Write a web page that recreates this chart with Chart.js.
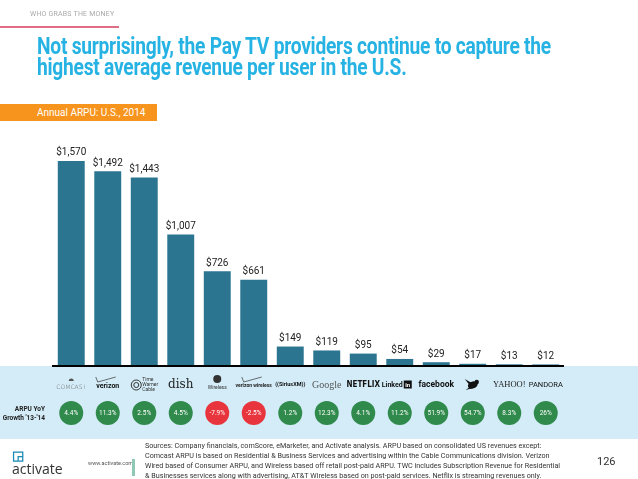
<!DOCTYPE html>
<html>
<head>
<meta charset="utf-8">
<script src="https://cdn.jsdelivr.net/npm/chart.js@4.4.1/dist/chart.umd.min.js"></script>
<style>
  body { margin: 0; width: 638px; height: 479px; background: #fff; position: relative; overflow: hidden; font-family: Roboto, sans-serif; }
  #c { position: absolute; left: 0; top: 0; }
  .kicker { position: absolute; left: 30px; top: 10px; font-size: 7px; color: #a9a9a9; letter-spacing: 0.2px; }
  .kline { position: absolute; left: 0; top: 26px; width: 119px; height: 2px; background: #e06f86; }
  .title { position: absolute; left: 37px; top: 36px; font-size: 23px; font-weight: bold; color: #26b3e3; line-height: 21px; white-space: nowrap; transform: scaleX(0.835); transform-origin: left top; letter-spacing: -0.3px; }
  .tag { position: absolute; left: 0; top: 104px; width: 157px; height: 17px; background: #f7941d; color: #fff; font-size: 10px; line-height: 17px; }
  .tag span { margin-left: 37px; }
  .logo { position: absolute; left: 12px; top: 453px; font-size: 14px; color: #333; font-family: "Open Sans", sans-serif; }
  .url { position: absolute; left: 88px; top: 460px; font-size: 5.5px; color: #555; }
  .vbar { position: absolute; left: 132px; top: 459px; width: 3px; height: 17px; background: #8fc9b6; }
  .src { position: absolute; left: 145px; top: 441px; font-size: 7.2px; line-height: 10px; color: #333; width: 450px; white-space: nowrap; }
  .pg { position: absolute; left: 597px; top: 455px; font-size: 11px; color: #333; }
</style>
</head>
<body>
<canvas id="c" width="638" height="479"></canvas>
<div class="kicker">WHO GRABS THE MONEY</div>
<div class="kline"></div>
<div class="title">Not surprisingly, the Pay TV providers continue to capture the<br>highest average revenue per user in the U.S.</div>
<div class="tag"><span>Annual ARPU: U.S., 2014</span></div>
<div class="logo"><span style="color:#1b8bb5;font-weight:bold;font-size:13px;position:relative;top:-8px;">&#x25F2;</span><br><span style="position:absolute;top:6px;left:0">activate</span></div>
<div class="url">www.activate.com</div>
<div class="vbar"></div>
<div class="src">Sources: Company financials, comScore, eMarketer, and Activate analysis. ARPU based on consolidated US revenues except:<br>Comcast ARPU is based on Residential &amp; Business Services and advertising within the Cable Communications division. Verizon<br>Wired based of Consumer ARPU, and Wireless based off retail post-paid ARPU. TWC includes Subscription Revenue for Residential<br>&amp; Businesses services along with advertising, AT&amp;T Wireless based on post-paid services. Netflix is streaming revenues only.</div>
<div class="pg">126</div>
<script>
const companies = ['Comcast', 'Verizon', 'Time Warner Cable', 'Dish', 'AT&T Wireless', 'Verizon Wireless', 'SiriusXM', 'Google', 'Netflix', 'LinkedIn', 'Facebook', 'Twitter', 'Yahoo!', 'Pandora'];
const arpu = [1570, 1492, 1443, 1007, 726, 661, 149, 119, 95, 54, 29, 17, 13, 12];
const growth = ['4.4%', '11.3%', '2.5%', '4.5%', '-7.9%', '-2.5%', '1.2%', '12.3%', '4.1%', '11.2%', '51.9%', '54.7%', '8.3%', '26%'];

const logoStyles = [
  { t: 'COMCAST', f: '300 6px "DejaVu Sans"', c: '#666' },
  { t: 'verizon', f: 'bold 7px Roboto', c: '#111' },
  { t: 'Time Warner Cable', f: '5px Roboto', c: '#333', stack: ['Time', 'Warner', 'Cable'] },
  { t: 'dish', f: '12px "DejaVu Serif"', c: '#222' },
  { t: 'Wireless', f: '5px Roboto', c: '#333', globe: true },
  { t: 'verizon wireless', f: 'bold 5px Roboto', c: '#222' },
  { t: '((SiriusXM))', f: 'bold 5.5px Roboto', c: '#111' },
  { t: 'Google', f: '10px "Liberation Serif"', c: '#555' },
  { t: 'NETFLIX', f: 'bold 8px "DejaVu Sans Condensed"', c: '#111' },
  { t: 'Linkedin', f: 'bold 7px Roboto', c: '#111', li: true },
  { t: 'facebook', f: 'bold 8.5px Roboto', c: '#111' },
  { t: '', bird: true },
  { t: 'YAHOO!', f: '8.5px "Liberation Serif"', c: '#222' },
  { t: 'PANDORA', f: '7.5px Roboto', c: '#111' }
];

const overlay = {
  id: 'overlay',
  beforeDraw(chart) {
    const { ctx, chartArea } = chart;
    ctx.save();
    ctx.fillStyle = '#d3ecf7';
    ctx.fillRect(0, chartArea.bottom, chart.width, 73);
    ctx.restore();
  },
  afterDatasetsDraw(chart) {
    const { ctx, chartArea, scales } = chart;
    ctx.save();
    // baseline
    ctx.fillStyle = '#000';
    ctx.fillRect(chartArea.left - 1, chartArea.bottom - 1, chartArea.right - chartArea.left + 1, 2);
    // value labels
    const meta = chart.getDatasetMeta(0);
    ctx.font = '10px Roboto';
    ctx.fillStyle = '#222';
    ctx.textAlign = 'center';
    ctx.textBaseline = 'bottom';
    meta.data.forEach((bar, i) => {
      ctx.fillText('$' + arpu[i].toLocaleString('en-US'), bar.x, bar.y - 3);
    });
    // logos
    const ly = chartArea.bottom + 19;
    ctx.textBaseline = 'middle';
    companies.forEach((name, i) => {
      const x = scales.x.getPixelForValue(i);
      const s = logoStyles[i];
      if (s.bird) {
        ctx.fillStyle = '#111';
        ctx.beginPath();
        ctx.ellipse(x, ly, 5, 3.5, -0.3, 0, Math.PI * 2);
        ctx.fill();
        ctx.beginPath();
        ctx.moveTo(x - 4, ly - 1); ctx.lineTo(x - 8, ly - 6); ctx.lineTo(x - 1, ly - 2); ctx.fill();
        ctx.beginPath();
        ctx.arc(x + 4, ly - 3, 2.2, 0, Math.PI * 2); ctx.fill();
        ctx.beginPath();
        ctx.moveTo(x - 3, ly + 2); ctx.lineTo(x - 7, ly + 5); ctx.lineTo(x, ly + 3); ctx.fill();
        return;
      }
      ctx.font = s.f;
      ctx.fillStyle = s.c;
      if (s.stack) {
        ctx.textAlign = 'left';
        s.stack.forEach((w, k) => ctx.fillText(w, x - 2, ly - 5 + k * 5));
        ctx.strokeStyle = '#333';
        ctx.lineWidth = 1;
        ctx.beginPath(); ctx.arc(x - 8, ly, 5, 0, Math.PI * 2); ctx.stroke();
        ctx.beginPath(); ctx.arc(x - 8, ly, 2.5, 0, Math.PI * 2); ctx.stroke();
        ctx.textAlign = 'center';
        return;
      }
      if (s.globe) {
        ctx.fillStyle = '#333';
        ctx.beginPath(); ctx.arc(x, ly - 6, 4, 0, Math.PI * 2); ctx.fill();
        ctx.fillText(s.t, x, ly + 3);
        return;
      }
      if (s.li) {
        ctx.textAlign = 'right';
        ctx.fillText('Linked', x + 3, ly);
        ctx.fillRect(x + 4, ly - 4.5, 8, 8);
        ctx.fillStyle = '#fff';
        ctx.font = 'bold 6px Roboto';
        ctx.textAlign = 'center';
        ctx.fillText('in', x + 8, ly);
        return;
      }
      if (i === 0) {
        ctx.fillStyle = '#555';
        ctx.beginPath(); ctx.arc(x, ly - 4, 2.5, Math.PI, 0); ctx.fill();
        ctx.fillStyle = s.c;
        ctx.fillText(s.t, x, ly + 2);
        return;
      }
      if (i === 1 || i === 5) {
        ctx.strokeStyle = '#333';
        ctx.lineWidth = 0.7;
        ctx.beginPath(); ctx.moveTo(x - 12, ly - 8); ctx.lineTo(x - 10, ly - 3); ctx.lineTo(x + 8, ly - 8); ctx.stroke();
        ctx.fillText(s.t, x, ly + 1);
        return;
      }
      ctx.fillText(s.t, x, ly);
    });
    // growth circles
    const cy = chartArea.bottom + 47;
    ctx.font = '6.5px Roboto';
    growth.forEach((g, i) => {
      const x = scales.x.getPixelForValue(i);
      ctx.fillStyle = g.startsWith('-') ? '#e8353d' : '#2f8a4c';
      ctx.beginPath();
      ctx.arc(x, cy, 12, 0, Math.PI * 2);
      ctx.fill();
      ctx.fillStyle = '#fff';
      ctx.textAlign = 'center';
      ctx.fillText(g, x, cy);
    });
    ctx.fillStyle = '#222';
    ctx.font = 'bold 6.5px Roboto';
    ctx.textAlign = 'right';
    ctx.fillText('ARPU YoY', 45, cy - 4);
    ctx.fillText("Growth '13-'14", 45, cy + 5);
    ctx.restore();
  }
};

new Chart(document.getElementById('c'), {
  type: 'bar',
  data: {
    labels: companies,
    datasets: [{
      data: arpu,
      backgroundColor: '#2b7590',
      barPercentage: 0.82,
      categoryPercentage: 0.9
    }]
  },
  options: {
    responsive: false,
    animation: false,
    layout: { padding: { left: 53, right: 74, top: 144, bottom: 113 } },
    plugins: { legend: { display: false }, tooltip: { enabled: false } },
    scales: {
      x: { display: false },
      y: { display: false, min: 0, max: 1700 }
    }
  },
  plugins: [overlay]
});
</script>
</body>
</html>
